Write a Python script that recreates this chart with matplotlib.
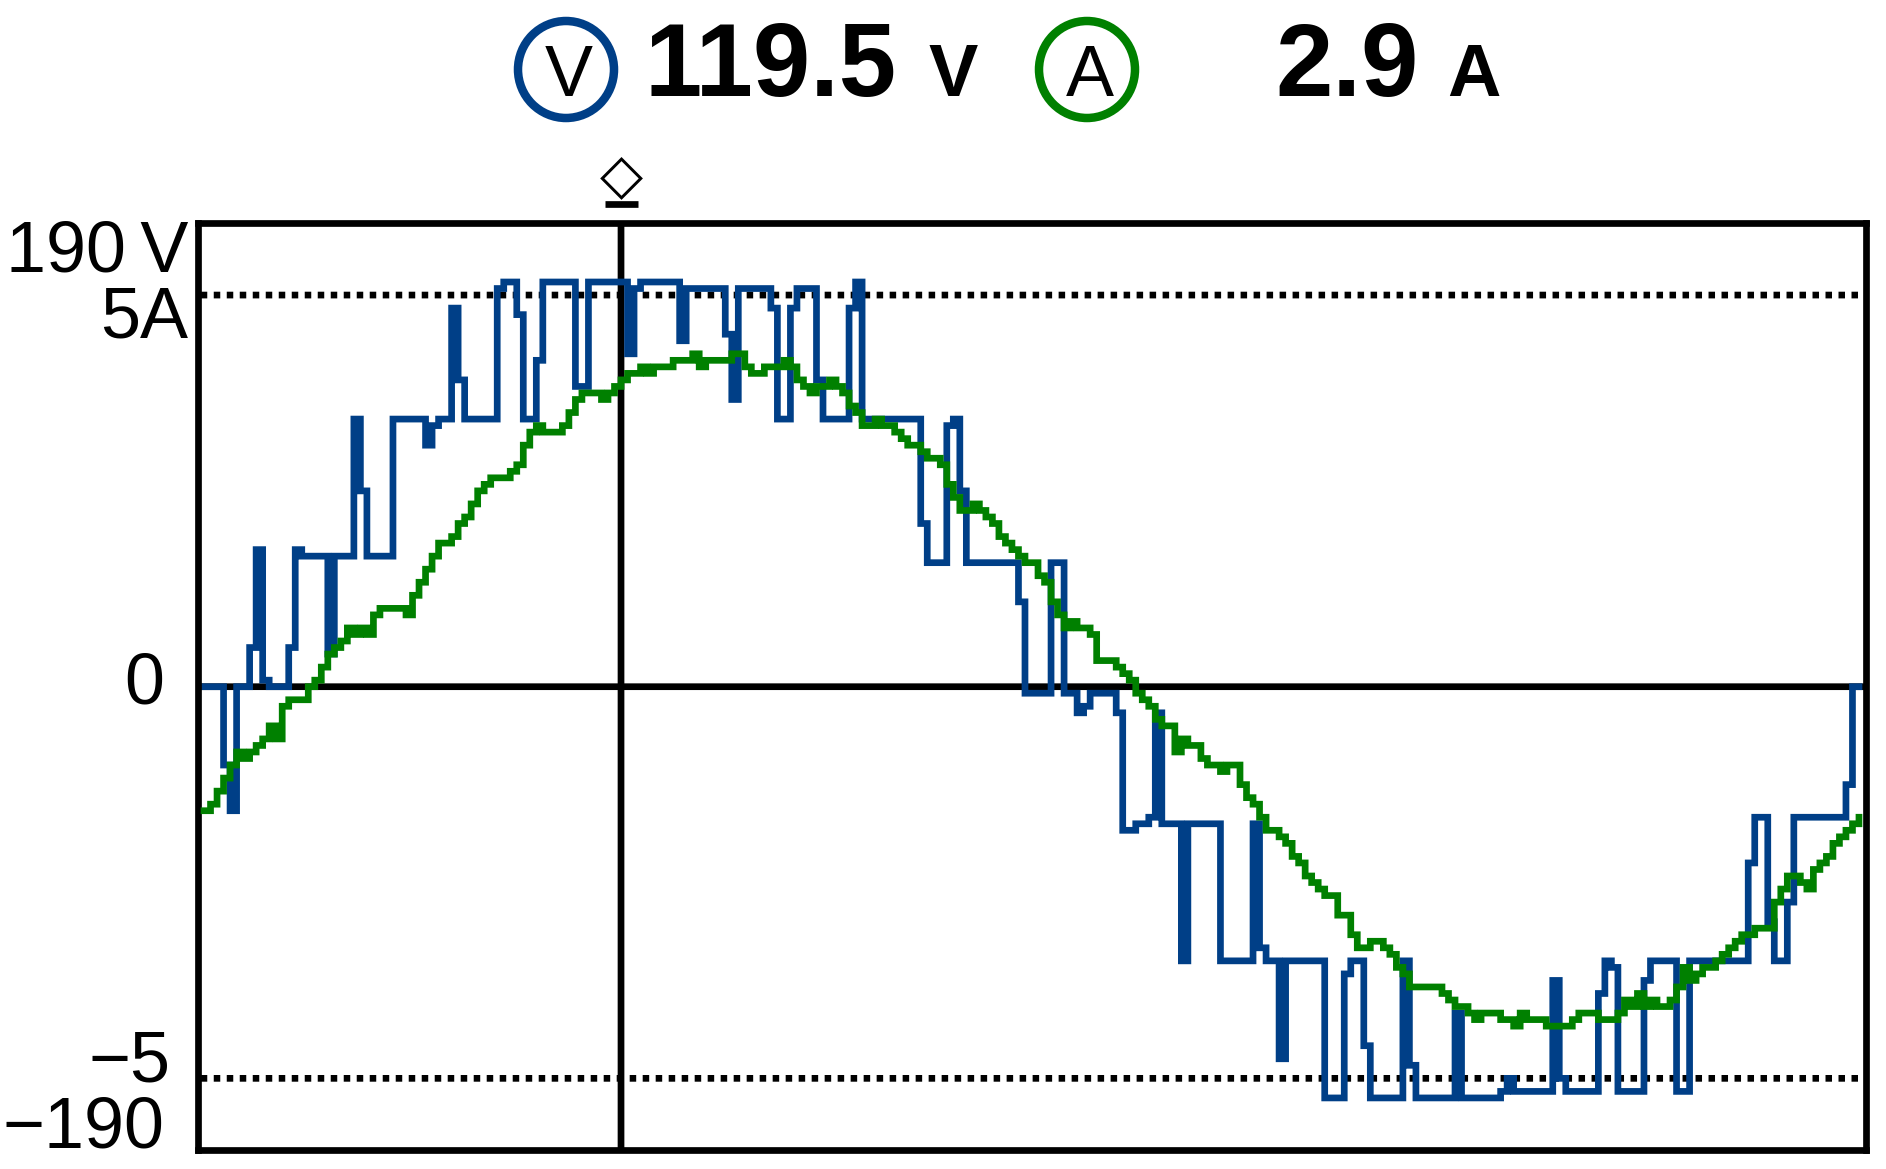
import numpy as np
import matplotlib
matplotlib.use("Agg")
import matplotlib.pyplot as plt
from matplotlib.patches import Ellipse

# Samples, in display counts (60 counts = 190 V = 5 A)
voltage_counts = [
    0, 0, 0, -12, -19, 0, 0, 6, 21, 1,
    0, 0, 0, 6, 21, 20, 20, 20, 20, 5,
    20, 20, 20, 41, 30, 20, 20, 20, 20, 41,
    41, 41, 41, 41, 37, 40, 41, 41, 58, 47,
    41, 41, 41, 41, 41, 61, 62, 62, 57, 41,
    41, 50, 62, 62, 62, 62, 62, 46, 46, 62,
    62, 62, 62, 62, 62, 51, 61, 62, 62, 62,
    62, 62, 62, 53, 61, 61, 61, 61, 61, 61,
    54, 44, 61, 61, 61, 61, 61, 58, 41, 41,
    58, 61, 61, 61, 47, 41, 41, 41, 41, 58,
    62, 41, 41, 41, 41, 41, 41, 41, 41, 41,
    25, 19, 19, 19, 40, 41, 30, 19, 19, 19,
    19, 19, 19, 19, 19, 13, -1, -1, -1, -1,
    19, 19, -1, -1, -4, -3, -1, -1, -1, -1,
    -4, -22, -22, -21, -21, -20, -4, -21, -21, -21,
    -42, -21, -21, -21, -21, -21, -42, -42, -42, -42,
    -42, -21, -40, -42, -42, -57, -42, -42, -42, -42,
    -42, -42, -63, -63, -63, -44, -42, -42, -55, -63,
    -63, -63, -63, -63, -42, -58, -63, -63, -63, -63,
    -63, -63, -50, -63, -63, -63, -63, -63, -63, -62,
    -60, -62, -62, -62, -62, -62, -62, -45, -60, -62,
    -62, -62, -62, -62, -47, -42, -43, -62, -62, -62,
    -62, -45, -42, -42, -42, -42, -62, -62, -42, -42,
    -42, -42, -42, -42, -42, -42, -42, -27, -20, -20,
    -36, -42, -42, -33, -20, -20, -20, -20, -20, -20,
    -20, -20, -15, 0, 0,
]
current_counts = [
    -19, -18, -16, -14, -12, -10, -11, -10, -9, -8,
    -6, -8, -3, -2, -2, -2, 0, 1, 3, 5,
    6, 7, 9, 8, 9, 8, 11, 12, 12, 12,
    12, 11, 14, 16, 18, 20, 22, 22, 23, 25,
    26, 28, 30, 31, 32, 32, 32, 33, 34, 37,
    39, 40, 39, 39, 39, 40, 42, 44, 45, 45,
    45, 44, 45, 46, 47, 48, 48, 49, 48, 49,
    49, 49, 50, 50, 50, 51, 49, 50, 50, 50,
    50, 51, 51, 49, 48, 48, 49, 49, 49, 50,
    49, 47, 46, 45, 46, 46, 47, 46, 45, 43,
    42, 40, 40, 41, 40, 40, 39, 38, 37, 37,
    36, 35, 35, 34, 31, 29, 27, 27, 28, 27,
    26, 25, 23, 22, 21, 20, 19, 19, 17, 16,
    13, 11, 9, 10, 9, 9, 8, 4, 4, 4,
    3, 2, 1, -1, -2, -3, -5, -6, -6, -10,
    -8, -9, -9, -11, -12, -12, -13, -12, -12, -15,
    -17, -18, -20, -22, -22, -23, -24, -26, -27, -29,
    -30, -31, -32, -32, -35, -35, -38, -40, -40, -39,
    -39, -40, -41, -43, -44, -46, -46, -46, -46, -46,
    -47, -48, -49, -49, -50, -51, -50, -50, -50, -51,
    -51, -52, -50, -51, -51, -51, -52, -52, -52, -52,
    -51, -50, -50, -50, -51, -51, -51, -50, -48, -49,
    -47, -49, -48, -49, -49, -48, -46, -43, -45, -44,
    -43, -43, -42, -41, -40, -39, -38, -38, -37, -37,
    -37, -33, -31, -29, -29, -30, -31, -28, -27, -26,
    -24, -23, -22, -21, -20,
]
full_scale_volts = 190
full_scale_amps = 5
counts_at_full_scale = 60
counts_to_edge = 71
cursor_sample = 64
volt_reading = "119.5"
amp_reading = "2.9"
# text, right edge px, baseline px
axis_labels = [("190\u2009V", 188, 272), ("5A", 188, 337), ("0", 164, 703),
               ("\u22125", 170, 1082), ("\u2212190", 164, 1147)]

BLUE = "#003f87"
GREEN = "#008000"
W, H = 1886, 1169
PX = 72 / 100  # points per pixel
LW = 6.7 * PX

plt.rcParams["font.family"] = ["Liberation Sans", "DejaVu Sans"]
fig = plt.figure(figsize=(W / 100, H / 100), dpi=100, facecolor="white")
left, right, top, bottom = 197.5, 1865.5, 223.25, 1150.15
ax = fig.add_axes([left / W, 1 - bottom / H, (right - left) / W, (bottom - top) / H])
x = np.arange(len(voltage_counts))
volts = np.array(voltage_counts) * full_scale_volts / counts_at_full_scale
amps = np.array(current_counts) * full_scale_amps / counts_at_full_scale
vmax = counts_to_edge * full_scale_volts / counts_at_full_scale
amax = counts_to_edge * full_scale_amps / counts_at_full_scale

ax.set_xlim(-1, 255)
ax.set_ylim(-vmax, vmax)
ax.set_xticks([])
ax.set_yticks([])
for s in ax.spines.values():
    s.set_linewidth(LW)
    s.set_zorder(6)

ax.axhline(0, color="black", lw=LW, zorder=1, solid_capstyle="butt", snap=False)
ax.axvline(cursor_sample, color="black", lw=LW, zorder=1, solid_capstyle="butt", snap=False)
for lvl in (full_scale_volts, -full_scale_volts):
    ax.plot([-0.5, 254.5], [lvl, lvl], color="black", lw=LW, ls=(0, (0.97, 0.97)),
            dash_capstyle="butt", zorder=1, snap=False)

ax.step(x, volts, where="post", color=BLUE, lw=LW, zorder=3, snap=False,
        solid_joinstyle="miter", solid_capstyle="projecting")
ax2 = ax.twinx()
ax2.set_ylim(-amax, amax)
ax2.set_yticks([])
ax2.patch.set_visible(False)
for s in ax2.spines.values():
    s.set_visible(False)
ax2.step(x, amps, where="post", color=GREEN, lw=LW, zorder=4, snap=False,
         solid_joinstyle="miter", solid_capstyle="projecting")


def fy(px):
    return 1 - px / H


for text, rx, base in axis_labels:
    fig.text(rx / W, fy(base), text, ha="right", va="baseline", fontsize=72 * PX, color="black")

# header read-out
fig.add_artist(Ellipse((566 / W, fy(69.5)), 96 / W, 97 / H, fill=False, ec=BLUE, lw=8.5 * PX,
                       transform=fig.transFigure))
fig.add_artist(Ellipse((1087 / W, fy(69.5)), 96 / W, 97 / H, fill=False, ec=GREEN, lw=8.5 * PX,
                       transform=fig.transFigure))
fig.text(569 / W, fy(96), "V", ha="center", va="baseline", fontsize=72 * PX)
fig.text(1090 / W, fy(96), "A", ha="center", va="baseline", fontsize=72 * PX)
fig.text(771 / W, fy(96), volt_reading, ha="center", va="baseline", fontsize=103 * PX, fontweight="bold")
fig.text(953 / W, fy(96), "V", ha="center", va="baseline", fontsize=74 * PX, fontweight="bold")
fig.text(1347 / W, fy(96), amp_reading, ha="center", va="baseline", fontsize=103 * PX, fontweight="bold")
fig.text(1474 / W, fy(96), "A", ha="center", va="baseline", fontsize=74 * PX, fontweight="bold")

# cursor marker
cur_x = ax.transData.transform((cursor_sample, 0))[0] / W
fig.text(cur_x, fy(178), "\u25c7", ha="center", va="center", fontsize=56 * PX,
         family=["DejaVu Sans"])
fig.add_artist(plt.Line2D([cur_x - 16.5 / W, cur_x + 16.5 / W], [fy(203.5), fy(203.5)],
                          color="black", lw=LW, solid_capstyle="butt",
                          transform=fig.transFigure))

fig.savefig("out.png", dpi=100)
